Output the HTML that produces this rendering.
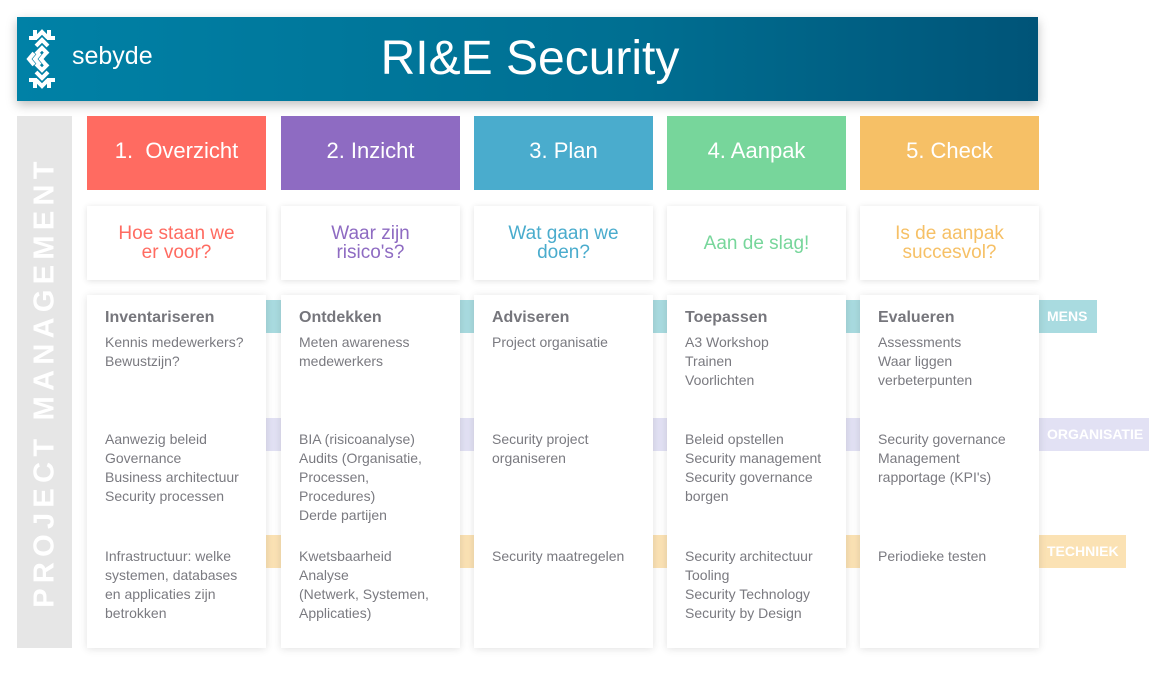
<!DOCTYPE html>
<html><head><meta charset="utf-8"><style>
*{margin:0;padding:0;box-sizing:border-box}
body{width:1149px;height:684px;background:#fff;position:relative;overflow:hidden;font-family:"Liberation Sans",sans-serif}
.a{position:absolute}
.hdr{left:17px;top:17px;width:1021px;height:84px;background:linear-gradient(90deg,#0081a6,#006f92 60%,#005478);box-shadow:0 4px 10px rgba(0,0,0,.25)}
.title{left:0;top:17px;width:1060px;height:84px;line-height:84px;text-align:center;color:#fff;font-size:48px}
.pm{left:17px;top:116px;width:55px;height:532px;background:#e6e6e6}
.pmt{left:45px;top:382px;transform:translate(-50%,-50%) rotate(-90deg);white-space:nowrap;color:#fff;font-weight:bold;font-size:29px;letter-spacing:5.3px}
.band{height:33px;left:87px}
.bl{color:#fff;font-weight:bold;font-size:14px;line-height:33px;padding-left:9px}
.step{top:116px;width:179px;height:74px;color:#fff;font-size:22px;text-align:center;line-height:70px}
.q{top:206px;width:179px;height:74px;background:#fff;box-shadow:0 1px 6px rgba(0,0,0,.12);display:flex;align-items:center;justify-content:center;text-align:center;font-size:19px;line-height:19px}
.card{top:295px;width:179px;height:353px;background:#fff;box-shadow:0 1px 8px rgba(0,0,0,.12);color:#7a7a80;font-size:14px;line-height:19px}
.card div{position:absolute;left:18px;right:0;white-space:nowrap}
.card b{font-size:16px;color:#76767c}
</style></head><body>
<div class="a hdr"></div>
<svg class="a" style="left:25px;top:24px" width="50" height="70" viewBox="0 0 50 70" fill="none" stroke="#fff" stroke-width="4">
<path d="M10 6v8H4M24 6v8h6M10 64v-8H4M24 64v-8h6"/>
<path d="M11 14l6-6 6 6M11 22l6-6 6 6M11 30l6-6 6 6M11 40l6 6 6-6M11 48l6 6 6-6M11 56l6 6 6-6"/>
<path d="M9 29l-5 6 5 6M15 29l-5 6 5 6M21 29l-5 6 5 6"/>
</svg>
<div class="a" style="left:72px;top:42px;color:#fff;font-size:25px">sebyde</div>
<div class="a title">RI&amp;E Security</div>
<div class="a pm"></div>
<div class="a pmt">PROJECT MANAGEMENT</div>
<div class="a band" style="top:300px;width:1010px;background:#a9dbe0"></div>
<div class="a band" style="top:418px;width:1062px;background:#e2e1f4"></div>
<div class="a band" style="top:535px;width:1039px;background:#fbe2b4"></div>
<div class="a bl" style="left:1038px;top:300px">MENS</div>
<div class="a bl" style="left:1038px;top:418px">ORGANISATIE</div>
<div class="a bl" style="left:1038px;top:535px">TECHNIEK</div>

<div class="a step" style="left:87px;background:#ff6b61">1.&nbsp; Overzicht</div>
<div class="a step" style="left:281px;background:#8e6bc2">2. Inzicht</div>
<div class="a step" style="left:474px;background:#4aaccd">3. Plan</div>
<div class="a step" style="left:667px;background:#77d69b">4. Aanpak</div>
<div class="a step" style="left:860px;background:#f6c066">5. Check</div>

<div class="a q" style="left:87px;color:#ff6b61">Hoe staan we<br>er voor?</div>
<div class="a q" style="left:281px;color:#8e6bc2">Waar zijn<br>risico's?</div>
<div class="a q" style="left:474px;color:#4aaccd">Wat gaan we<br>doen?</div>
<div class="a q" style="left:667px;color:#77d69b">Aan de slag!</div>
<div class="a q" style="left:860px;color:#f6c066">Is de aanpak<br>succesvol?</div>

<div class="a card" style="left:87px">
<div style="top:13px"><b>Inventariseren</b></div>
<div style="top:38px">Kennis medewerkers?<br>Bewustzijn?</div>
<div style="top:135px">Aanwezig beleid<br>Governance<br>Business architectuur<br>Security processen</div>
<div style="top:252px">Infrastructuur: welke<br>systemen, databases<br>en applicaties zijn<br>betrokken</div>
</div>
<div class="a card" style="left:281px">
<div style="top:13px"><b>Ontdekken</b></div>
<div style="top:38px">Meten awareness<br>medewerkers</div>
<div style="top:135px">BIA (risicoanalyse)<br>Audits (Organisatie,<br>Processen,<br>Procedures)<br>Derde partijen</div>
<div style="top:252px">Kwetsbaarheid<br>Analyse<br>(Netwerk, Systemen,<br>Applicaties)</div>
</div>
<div class="a card" style="left:474px">
<div style="top:13px"><b>Adviseren</b></div>
<div style="top:38px">Project organisatie</div>
<div style="top:135px">Security project<br>organiseren</div>
<div style="top:252px">Security maatregelen</div>
</div>
<div class="a card" style="left:667px">
<div style="top:13px"><b>Toepassen</b></div>
<div style="top:38px">A3 Workshop<br>Trainen<br>Voorlichten</div>
<div style="top:135px">Beleid opstellen<br>Security management<br>Security governance<br>borgen</div>
<div style="top:252px">Security architectuur<br>Tooling<br>Security Technology<br>Security by Design</div>
</div>
<div class="a card" style="left:860px">
<div style="top:13px"><b>Evalueren</b></div>
<div style="top:38px">Assessments<br>Waar liggen<br>verbeterpunten</div>
<div style="top:135px">Security governance<br>Management<br>rapportage (KPI's)</div>
<div style="top:252px">Periodieke testen</div>
</div>
</body></html>
